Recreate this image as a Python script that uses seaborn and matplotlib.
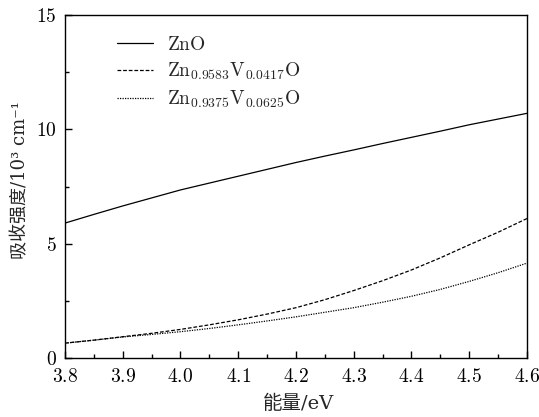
import numpy as np
import pandas as pd
import seaborn as sns
import matplotlib
matplotlib.use("Agg")
import matplotlib.pyplot as plt
from matplotlib.ticker import MultipleLocator

energy = [3.80, 3.85, 3.90, 3.95, 4.00, 4.05, 4.10, 4.15, 4.20, 4.25, 4.30, 4.35, 4.40, 4.45, 4.50, 4.55, 4.60]
zno = [5.90, 6.28, 6.65, 7.00, 7.35, 7.65, 7.95, 8.25, 8.55, 8.83, 9.10, 9.38, 9.65, 9.92, 10.20, 10.45, 10.70]
v0417 = [0.65, 0.78, 0.93, 1.08, 1.25, 1.45, 1.67, 1.92, 2.20, 2.55, 2.95, 3.38, 3.85, 4.38, 4.95, 5.50, 6.10]
v0625 = [0.65, 0.78, 0.92, 1.03, 1.15, 1.29, 1.45, 1.62, 1.80, 2.00, 2.20, 2.44, 2.70, 3.00, 3.35, 3.73, 4.15]
labels = [r"$\mathrm{ZnO}$", r"$\mathrm{Zn_{0.9583}V_{0.0417}O}$", r"$\mathrm{Zn_{0.9375}V_{0.0625}O}$"]
xticks = [3.8, 3.9, 4.0, 4.1, 4.2, 4.3, 4.4, 4.5, 4.6]
yticks = [0, 5, 10, 15]

sns.set_theme(style="ticks")
plt.rcParams['font.family'] = ['DejaVu Serif', 'Noto Sans CJK SC']
plt.rcParams['mathtext.fontset'] = 'cm'

df = pd.DataFrame({
    "energy": energy * 3,
    "value": zno + v0417 + v0625,
    "series": [labels[0]] * len(energy) + [labels[1]] * len(energy) + [labels[2]] * len(energy),
})

fig = plt.figure(figsize=(5.39, 4.17), dpi=100)
ax = fig.add_axes([0.1206, 0.1415, 0.8571, 0.8225])

styles = ["-", (0, (3, 1.5)), (0, (1, 1))]
for lab, ls in zip(labels, styles):
    sub = df[df["series"] == lab]
    sns.lineplot(data=sub, x="energy", y="value", ax=ax, color="black", lw=0.9,
                 linestyle=ls, label=lab, sort=True, estimator=None)

ax.set_xlim(3.8, 4.6)
ax.set_ylim(0, 15)
ax.set_xticks(xticks)
ax.set_xticklabels([f"${t:.1f}$" for t in xticks])
ax.set_yticks(yticks)
ax.set_yticklabels([f"${t}$" for t in yticks])
ax.xaxis.set_minor_locator(MultipleLocator(0.05))
ax.yaxis.set_minor_locator(MultipleLocator(2.5))
ax.tick_params(which="both", direction="in", top=False, right=False, labelsize=14, colors="black")
ax.tick_params(which="major", length=5, width=1)
ax.tick_params(which="minor", length=3, width=1)
ax.tick_params(axis="x", which="major", pad=7)
ax.tick_params(axis="y", which="major", pad=6)
for s in ax.spines.values():
    s.set_linewidth(1.0)
    s.set_color("black")
    s.set_visible(True)

ax.set_xlabel("能量/eV", fontsize=14, va="center")
ax.set_ylabel("吸收强度/10³ cm⁻¹", fontsize=13, va="center")
ax.xaxis.set_label_coords(0.505, -0.135)
ax.yaxis.set_label_coords(-0.097, 0.52)

leg = ax.legend(loc="upper left", bbox_to_anchor=(0.074, 0.99), frameon=False, fontsize=14,
                handlelength=1.85, labelspacing=0.35, handletextpad=0.75)

fig.savefig("out.png", dpi=100)
